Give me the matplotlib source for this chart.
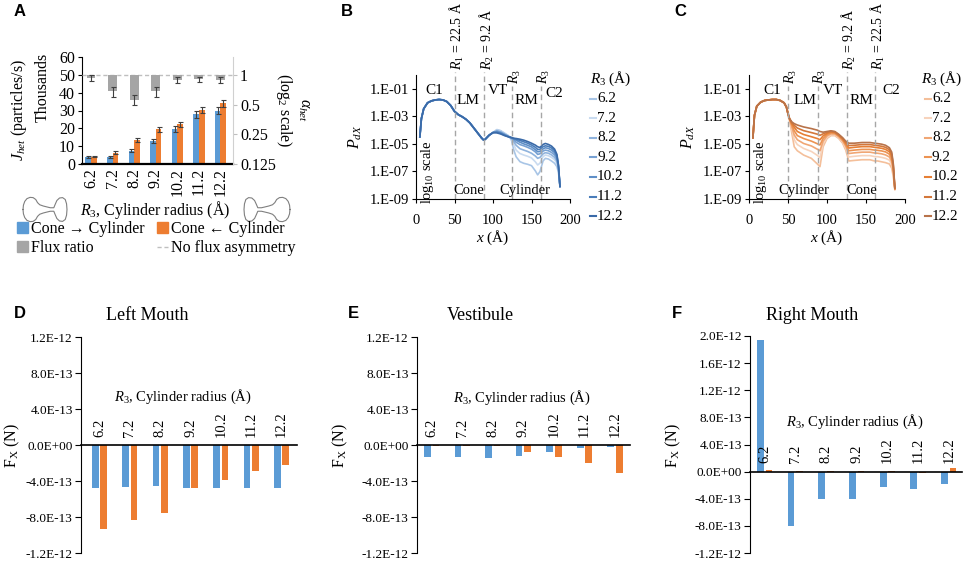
import numpy as np
import matplotlib
matplotlib.use("Agg")
import matplotlib.pyplot as plt
from matplotlib.patches import Patch
from matplotlib.lines import Line2D
from matplotlib.ticker import FixedLocator, NullLocator, FuncFormatter

plt.rcParams['font.family'] = ['Liberation Serif', 'DejaVu Serif']
plt.rcParams['mathtext.fontset'] = 'custom'
plt.rcParams['mathtext.rm'] = 'Liberation Serif'
plt.rcParams['mathtext.it'] = 'Liberation Serif:italic'
plt.rcParams['mathtext.bf'] = 'Liberation Serif:bold'

W, H = 964, 563
BLUE = '#5b9bd5'
ORANGE = '#ed7d31'
GRAY = '#a5a5a5'

# ---------------- data ----------------
r3_labels = ['6.2', '7.2', '8.2', '9.2', '10.2', '11.2', '12.2']

# panel A: flux (thousands of particles/s) and flux ratio
flux_fwd = [3.8, 4.1, 7.5, 12.9, 19.8, 27.9, 29.9]
flux_fwd_err = [0.5, 0.5, 0.9, 1.3, 1.7, 2.0, 1.9]
flux_rev = [4.2, 6.4, 13.5, 19.4, 22.2, 30.3, 34.0]
flux_rev_err = [0.5, 0.9, 1.3, 1.5, 1.2, 1.5, 2.1]
flux_ratio = [0.93, 0.68, 0.56, 0.68, 0.89, 0.90, 0.89]
flux_ratio_err = [0.06, 0.08, 0.07, 0.08, 0.07, 0.06, 0.07]

# panel B: log10(P_dX), cone -> cylinder
b_common_x = [5, 7, 10, 15, 20, 25, 30, 35, 40, 45, 50, 55, 60, 65, 70, 75, 80, 85, 88, 90, 95, 100]
b_common_logp = [-4.49, -3.17, -2.45, -2.02, -1.88, -1.81, -1.78, -1.81, -1.93, -2.21, -2.64,
                 -2.88, -3.03, -3.22, -3.48, -3.84, -4.20, -4.56, -4.73, -4.66, -4.37, -4.18]
b_tail_x = [105, 110, 115, 120, 124, 127, 130, 135, 140, 145, 150, 155, 158, 161,
            165, 168, 172, 176, 180, 183, 185, 187]
b_tail_logp = [
    [-3.96, -4.04, -4.22, -4.40, -4.73, -5.45, -5.93, -6.29, -6.41, -6.48, -6.58, -6.96, -7.25, -7.01,
     -6.24, -6.05, -6.10, -6.24, -6.41, -6.65, -7.06, -8.09],
    [-4.00, -4.08, -4.25, -4.42, -4.65, -5.05, -5.45, -5.70, -5.81, -5.90, -6.02, -6.30, -6.53, -6.40,
     -5.92, -5.81, -5.86, -5.98, -6.15, -6.42, -6.90, -8.09],
    [-4.04, -4.12, -4.28, -4.44, -4.60, -4.85, -5.10, -5.35, -5.45, -5.55, -5.68, -5.88, -6.05, -5.98,
     -5.72, -5.64, -5.68, -5.80, -5.98, -6.25, -6.80, -8.09],
    [-4.08, -4.16, -4.31, -4.46, -4.57, -4.72, -4.88, -5.05, -5.14, -5.25, -5.38, -5.58, -5.76, -5.72,
     -5.52, -5.45, -5.50, -5.62, -5.80, -6.10, -6.72, -8.09],
    [-4.12, -4.20, -4.34, -4.47, -4.56, -4.65, -4.73, -4.88, -5.00, -5.10, -5.22, -5.42, -5.57, -5.55,
     -5.36, -5.28, -5.33, -5.45, -5.64, -5.98, -6.65, -8.09],
    [-4.16, -4.24, -4.37, -4.48, -4.55, -4.61, -4.66, -4.75, -4.85, -4.95, -5.08, -5.25, -5.40, -5.40,
     -5.20, -5.14, -5.18, -5.30, -5.50, -5.86, -6.58, -8.09],
    [-4.20, -4.28, -4.40, -4.49, -4.54, -4.59, -4.61, -4.66, -4.73, -4.83, -4.95, -5.09, -5.21, -5.26,
     -5.04, -4.97, -5.04, -5.16, -5.38, -5.76, -6.53, -8.09],
]

# panel C: log10(P_dX), cone <- cylinder
c_common_x = [5, 7, 10, 15, 20, 25, 30, 35, 40, 45, 48, 50]
c_common_logp = [-4.56, -2.93, -2.26, -1.97, -1.85, -1.81, -1.78, -1.78, -1.85, -2.02, -2.33, -2.81]
c_tail_x = [52, 55, 58, 62, 70, 80, 88, 91, 95, 100, 105, 110, 115, 120, 124, 128, 135, 145, 155,
            161, 165, 170, 175, 180, 183, 185, 187]
c_tail_logp = [
    [-3.30, -4.25, -5.21, -5.50, -5.81, -6.05, -6.48, -6.65, -5.21, -4.61, -4.40, -4.40, -4.60, -4.95,
     -5.45, -6.24, -6.20, -6.15, -6.15, -6.24, -6.24, -6.30, -6.36, -6.46, -6.77, -7.37, -8.30],
    [-3.25, -3.95, -4.70, -5.05, -5.33, -5.55, -5.85, -6.00, -5.00, -4.52, -4.34, -4.34, -4.53, -4.86,
     -5.30, -5.95, -5.90, -5.85, -5.85, -5.92, -5.93, -5.98, -6.05, -6.18, -6.50, -7.15, -8.30],
    [-3.22, -3.80, -4.35, -4.70, -4.97, -5.15, -5.40, -5.50, -4.80, -4.42, -4.27, -4.28, -4.47, -4.78,
     -5.15, -5.70, -5.65, -5.60, -5.60, -5.66, -5.68, -5.72, -5.80, -5.95, -6.28, -6.95, -8.30],
    [-3.20, -3.65, -4.05, -4.40, -4.61, -4.80, -5.00, -5.08, -4.60, -4.32, -4.20, -4.22, -4.42, -4.70,
     -5.05, -5.50, -5.45, -5.40, -5.40, -5.45, -5.47, -5.51, -5.58, -5.75, -6.08, -6.80, -8.25],
    [-3.18, -3.55, -3.80, -4.10, -4.32, -4.48, -4.62, -4.70, -4.42, -4.24, -4.14, -4.17, -4.37, -4.64,
     -4.95, -5.30, -5.25, -5.20, -5.20, -5.25, -5.28, -5.32, -5.40, -5.57, -5.90, -6.68, -8.25],
    [-3.17, -3.47, -3.65, -3.85, -4.04, -4.18, -4.30, -4.38, -4.27, -4.16, -4.09, -4.13, -4.33, -4.59,
     -4.87, -5.12, -5.10, -5.05, -5.05, -5.10, -5.13, -5.17, -5.25, -5.42, -5.75, -6.55, -8.20],
    [-3.17, -3.41, -3.53, -3.63, -3.77, -3.89, -4.01, -4.10, -4.15, -4.10, -4.05, -4.10, -4.30, -4.55,
     -4.80, -4.95, -4.95, -4.90, -4.90, -4.95, -4.98, -5.02, -5.10, -5.28, -5.60, -6.45, -8.20],
]

# region boundaries (Å) and labels
boundaries = [50, 88, 125, 162]
b_bound_labels = ['$R_1$ = 22.5 Å', '$R_2$ = 9.2 Å', '$R_3$', '$R_3$']
c_bound_labels = ['$R_3$', '$R_3$', '$R_2$ = 9.2 Å', '$R_1$ = 22.5 Å']
b_regions = [('C1', 24, -1.15), ('LM', 67, -1.85), ('VT', 106, -1.15), ('RM', 143, -1.85), ('C2', 180, -1.35)]
c_regions = [('C1', 30, -1.15), ('LM', 72, -1.85), ('VT', 108, -1.15), ('RM', 144, -1.85), ('C2', 182, -1.15)]
b_shapes = [('Cone', 69), ('Cylinder', 142)]
c_shapes = [('Cylinder', 70), ('Cone', 144)]

b_colors = ['#a8c5e6', '#c9dbf0', '#8fb3dd', '#77a1d3', '#5f8fc7', '#4a7dba', '#3a6aa8']
c_colors = ['#f4bf9a', '#f7d3bc', '#f0a674', '#ec9352', '#e67f35', '#d3773a', '#b8734a']

# panels D-F: force F_X (N)
lm_cone_cyl = [-4.77e-13, -4.66e-13, -4.59e-13, -4.77e-13, -4.77e-13, -4.77e-13, -4.77e-13]
lm_cyl_cone = [-9.28e-13, -8.37e-13, -7.52e-13, -4.77e-13, -3.93e-13, -2.86e-13, -2.20e-13]
vt_cone_cyl = [-1.36e-13, -1.36e-13, -1.47e-13, -1.21e-13, -0.81e-13, -0.29e-13, -0.22e-13]
vt_cyl_cone = [-0.15e-13, -0.12e-13, -0.12e-13, -0.73e-13, -1.36e-13, -2.02e-13, -3.12e-13]
rm_cone_cyl = [1.94e-12, -8.07e-13, -3.99e-13, -3.99e-13, -2.26e-13, -2.56e-13, -1.77e-13]
rm_cyl_cone = [0.30e-13, 0.03e-13, 0.15e-13, 0.08e-13, 0.03e-13, -0.15e-13, 0.49e-13]

# ---------------- figure ----------------
fig = plt.figure(figsize=(W / 100, H / 100), dpi=100)


def axes_px(l, t, r, b):
    return fig.add_axes([l / W, 1 - b / H, (r - l) / W, (b - t) / H])


def text_px(x, y, s, **kw):
    return fig.text(x / W, 1 - y / H, s, **kw)


def letter(x, y, s):
    text_px(x, y, s, family='Liberation Sans', weight='bold', fontsize=12, ha='center', va='center')


# pore icon outline (upper half, normalised)
pore_upper = [(0.00, 0.00), (0.01, 0.35), (0.04, 0.65), (0.09, 0.87), (0.16, 0.97), (0.23, 0.95),
              (0.29, 0.80), (0.33, 0.55), (0.38, 0.38), (0.46, 0.28), (0.55, 0.20), (0.62, 0.14),
              (0.70, 0.14), (0.73, 0.40), (0.77, 0.72), (0.83, 0.92), (0.90, 0.95), (0.96, 0.80),
              (0.99, 0.45), (1.00, 0.00)]


def pore_icon(x0, x1, yc, half, flip=False):
    us = [p[0] for p in pore_upper] + [p[0] for p in pore_upper[::-1]]
    vs = [p[1] for p in pore_upper] + [-p[1] for p in pore_upper[::-1]]
    if flip:
        us = [1 - u for u in us]
    xs = [(x0 + u * (x1 - x0)) / W for u in us]
    ys = [1 - (yc - v * half) / H for v in vs]
    fig.add_artist(Line2D(xs, ys, color='#7f7f7f', lw=0.8))


# ---------------- panel A ----------------
ax_a = axes_px(82, 57, 233, 164)
x = np.arange(len(r3_labels))
ekw = dict(ecolor='#404040', elinewidth=0.8, capthick=0.8)
ax_a.bar(x - 0.13, flux_fwd, 0.26, yerr=flux_fwd_err, color=BLUE, capsize=1.8, error_kw=ekw)
ax_a.bar(x + 0.13, flux_rev, 0.26, yerr=flux_rev_err, color=ORANGE, capsize=1.8, error_kw=ekw)
ax_a.set_xlim(-0.42, 6.58)
ax_a.set_ylim(0, 60)
ax_a.set_yticks(range(0, 61, 10))
ax_a.set_xticks(x)
ax_a.set_xticklabels(r3_labels, rotation=90, fontsize=11.5)
ax_a.tick_params(axis='x', length=0, pad=3)
ax_a.tick_params(axis='y', labelsize=11.5, length=3, pad=2)
for s in ['top', 'right']:
    ax_a.spines[s].set_visible(False)
ax_a.spines['bottom'].set_linewidth(1.6)

ax_r = ax_a.twinx()
ax_r.set_yscale('log', base=2)
ax_r.set_ylim(0.125, 2 ** 0.6)
ax_r.bar(x, [1 - r for r in flux_ratio], 0.41, bottom=flux_ratio, color=GRAY, zorder=2)
ax_r.errorbar(x, flux_ratio, yerr=flux_ratio_err, fmt='none', capsize=1.8, zorder=3, **ekw)
ax_r.axhline(1, color='#bfbfbf', ls=(0, (3, 2)), lw=1, zorder=1)
ax_r.yaxis.set_major_locator(FixedLocator([0.125, 0.25, 0.5, 1]))
ax_r.yaxis.set_minor_locator(NullLocator())
ax_r.set_yticklabels(['0.125', '0.25', '0.5', '1'])
ax_r.tick_params(axis='y', colors='#bfbfbf', labelcolor='black', labelsize=11.5, length=3, pad=2)
for s in ['top', 'left', 'bottom']:
    ax_r.spines[s].set_visible(False)
ax_r.spines['right'].set_color('#d0d0d0')

text_px(19, 110, '$J_{het}$ (particles/s)', rotation=90, fontsize=11.5, ha='center', va='center')
text_px(43, 87, 'Thousands', rotation=90, fontsize=11.5, ha='center', va='center')
text_px(293, 110, '$\\alpha_{het}$\n(log$_2$ scale)', rotation=270, fontsize=11.5,
        ha='center', va='center', multialignment='center', linespacing=1.15)
text_px(155, 210, '$R_3$, Cylinder radius (Å)', fontsize=11.5, ha='center', va='center')
pore_icon(23, 67, 209.5, 12.5)
pore_icon(244, 290, 209.5, 12.5, flip=True)

handles = [Patch(color=BLUE), Patch(color=GRAY), Patch(color=ORANGE),
           Line2D([0], [0], color='#bfbfbf', ls=(0, (3, 2)), lw=1)]
labels = ['Cone → Cylinder', 'Flux ratio', 'Cone ← Cylinder', 'No flux asymmetry']
fig.legend(handles, labels, ncol=2, loc='upper left', bbox_to_anchor=(17 / W, 1 - 221 / H),
           frameon=False, fontsize=11.5, handlelength=0.7, handleheight=0.7, handletextpad=0.15,
           columnspacing=0.8, labelspacing=0.2, borderaxespad=0, borderpad=0)


# ---------------- panels B and C ----------------
def pdx_panel(ax, cx, clog, tx, tlogs, colors, bound_labels, label_bottoms, regions, shapes):
    for logp, c in zip(tlogs, colors):
        ax.plot(cx + tx, 10.0 ** np.array(clog + logp), color=c, lw=1.2)
    ax.set_yscale('log')
    ax.set_xlim(0, 200)
    ax.set_ylim(1e-9, 1e0)
    ax.yaxis.set_major_locator(FixedLocator([1e-9, 1e-7, 1e-5, 1e-3, 1e-1]))
    ax.yaxis.set_minor_locator(NullLocator())
    ax.yaxis.set_major_formatter(FuncFormatter(lambda v, p: '1.E-%02d' % round(-np.log10(v))))
    ax.set_xticks([0, 50, 100, 150, 200])
    ax.tick_params(labelsize=10.5, length=3)
    ax.tick_params(axis='x', pad=8)
    ax.tick_params(axis='y', pad=2)
    for s in ['top', 'right']:
        ax.spines[s].set_visible(False)
    trans = ax.get_xaxis_transform()
    for bx, lab, bot in zip(boundaries, bound_labels, label_bottoms):
        top = (199 - bot - 2) / 124
        ax.plot([bx, bx], [0, top], transform=trans, clip_on=False, color='#a6a6a6',
                ls=(0, (4, 2.5)), lw=1)
        ax.annotate(lab, xy=(bx, (199 - bot) / 124), xycoords=trans, xytext=(2, 0),
                    textcoords='offset points', rotation=90, ha='center', va='bottom',
                    fontsize=10, annotation_clip=False)
    for lab, rx, ry in regions:
        ax.text(rx, 10 ** ry, lab, fontsize=11, ha='center', va='center')
    for lab, sx in shapes:
        ax.text(sx, 10 ** -8.35, lab, fontsize=10.5, ha='center', va='center')
    ax.text(15, 10 ** -7.05, 'log$_{10}$ scale', rotation=90, fontsize=10.5, ha='center', va='center')
    ax.set_xlabel('$x$ (Å)', fontsize=11, labelpad=1)
    ax.set_ylabel('$P_{dX}$', fontsize=11.5, labelpad=4)


def r3_legend(head_x, line_x, y0, colors):
    text_px(head_x, y0, '$R_3$ (Å)', fontsize=11, ha='left', va='center')
    for i, (lab, c) in enumerate(zip(r3_labels, colors)):
        y = y0 + 19.6 * (i + 1)
        fig.add_artist(Line2D([line_x / W, (line_x + 6) / W], [1 - y / H] * 2, color=c, lw=1.5))
        text_px(line_x + 7, y, lab, fontsize=11, ha='left', va='center')


ax_b = axes_px(416, 75, 570, 199)
pdx_panel(ax_b, b_common_x, b_common_logp, b_tail_x, b_tail_logp, b_colors,
          b_bound_labels, [70, 70, 84, 84], b_regions, b_shapes)
r3_legend(590, 590, 79, b_colors)

ax_c = axes_px(749, 75, 905, 199)
pdx_panel(ax_c, c_common_x, c_common_logp, c_tail_x, c_tail_logp, c_colors,
          c_bound_labels, [84, 84, 70, 70], c_regions, c_shapes)
r3_legend(921, 925, 79, c_colors)


# ---------------- panels D-F ----------------
def force_panel(ax, blue_vals, orange_vals, yticks, xlim):
    xx = np.arange(len(r3_labels))
    ax.bar(xx - 0.14, blue_vals, 0.22, color=BLUE, zorder=2)
    ax.bar(xx + 0.14, orange_vals, 0.22, color=ORANGE, zorder=2)
    ax.set_xlim(*xlim)
    ax.set_ylim(yticks[0], yticks[-1])
    ax.spines['bottom'].set_position(('data', 0))
    ax.spines['bottom'].set_linewidth(1.2)
    ax.spines['bottom'].set_zorder(3)
    for s in ['top', 'right']:
        ax.spines[s].set_visible(False)
    ax.set_xticks([])
    ax.yaxis.set_major_locator(FixedLocator(yticks))
    ax.yaxis.set_major_formatter(FuncFormatter(lambda v, p: f'{v:.1E}'))
    ax.tick_params(axis='y', labelsize=9.5, length=4, pad=2)
    for i, lab in enumerate(r3_labels):
        ax.annotate(lab, xy=(i, 0), xytext=(0, 6), textcoords='offset points', rotation=90,
                    ha='center', va='bottom', fontsize=10.5)


ticks_sym = [-1.2e-12, -8e-13, -4e-13, 0.0, 4e-13, 8e-13, 1.2e-12]
ticks_f = [-1.2e-12, -8e-13, -4e-13, 0.0, 4e-13, 8e-13, 1.2e-12, 1.6e-12, 2.0e-12]

ax_d = axes_px(81, 337, 297, 553)
force_panel(ax_d, lm_cone_cyl, lm_cyl_cone, ticks_sym, (-0.61, 6.51))
ax_e = axes_px(417, 337, 630, 553)
force_panel(ax_e, vt_cone_cyl, vt_cyl_cone, ticks_sym, (-0.48, 6.49))
ax_f = axes_px(750, 336, 962, 553)
force_panel(ax_f, rm_cone_cyl, rm_cyl_cone, ticks_f, (-0.48, 6.43))

for cx, ttl, lx in [(147, 'Left Mouth', 12), (480, 'Vestibule', 340), (812, 'Right Mouth', 673)]:
    text_px(cx, 316, ttl, fontsize=13, ha='center', va='center')
    text_px(lx, 445, 'F$_\\mathrm{X}$ (N)', rotation=90, fontsize=11.5, ha='center', va='center')
for cx, cy in [(183, 397), (522, 398), (855, 422)]:
    text_px(cx, cy, '$R_3$, Cylinder radius (Å)', fontsize=10.5, ha='center', va='center')

letter(20, 12, 'A')
letter(347, 12, 'B')
letter(680, 12, 'C')
letter(20, 313, 'D')
letter(353, 313, 'E')
letter(677, 313, 'F')

fig.savefig('out.png', dpi=100)
